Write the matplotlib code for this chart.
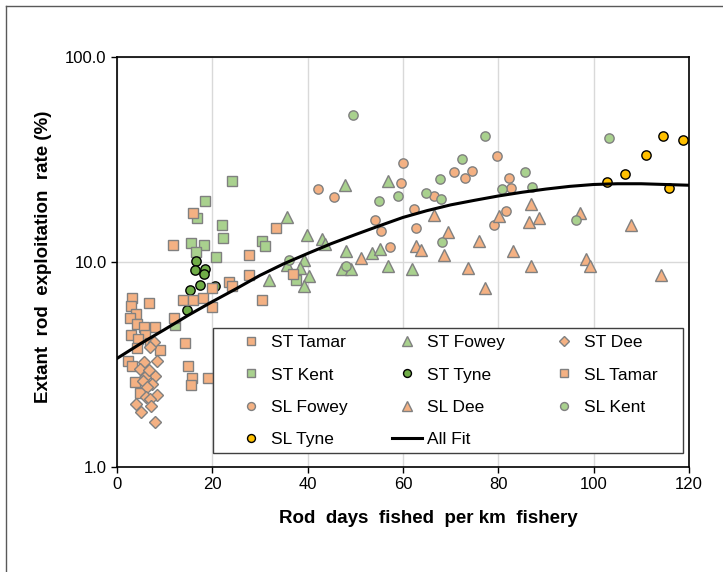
import matplotlib
matplotlib.use('Agg')
import matplotlib.pyplot as plt
from matplotlib.lines import Line2D
from matplotlib.patches import Rectangle
from matplotlib.ticker import FixedLocator, NullLocator, FixedFormatter

plt.rcParams['font.family'] = ['Liberation Sans', 'DejaVu Sans']

# data (x = rod days / km, y = exploitation rate %)
st_tamar_x = [3.2, 2.9, 6.8, 3.9, 2.7, 4.3, 5.7, 8.0, 2.9, 5.9, 4.5, 6.9, 4.1, 9.0, 2.4, 3.1, 3.8, 4.8, 14.3, 14.9, 15.7, 15.6, 19.1]
st_tamar_y = [6.7, 6.1, 6.3, 5.6, 5.3, 5.0, 4.8, 4.8, 4.4, 4.4, 4.2, 4.0, 3.8, 3.7, 3.3, 3.1, 2.6, 2.3, 4.0, 3.1, 2.7, 2.5, 2.7]

st_fowey_x = [47.9, 56.8, 39.9, 43.0, 43.6, 48.1, 53.6, 55.1, 56.8, 61.8, 47.2, 49.2, 39.2, 40.2, 39.3, 35.7, 31.8, 35.7, 38.3]
st_fowey_y = [23.7, 24.8, 13.5, 12.9, 12.2, 11.3, 11.0, 11.6, 9.6, 9.26, 9.26, 9.19, 10.2, 8.5, 7.67, 16.6, 8.13, 9.72, 9.37]

st_dee_x = [7.8, 6.9, 8.3, 5.7, 4.8, 8.0, 5.9, 5.5, 7.3, 6.2, 8.3, 6.0, 3.9, 6.9, 7.1, 5.0, 8.0, 6.8]
st_dee_y = [4.06, 3.83, 3.30, 3.24, 3.00, 2.79, 2.73, 2.63, 2.54, 2.44, 2.25, 2.20, 2.03, 2.14, 1.99, 1.85, 1.66, 2.97]

st_kent_x = [24.1, 18.5, 16.8, 22.0, 22.2, 15.6, 18.2, 16.6, 20.7, 30.4, 31.0, 37.6, 12.2]
st_kent_y = [24.8, 19.8, 16.4, 15.2, 13.1, 12.4, 12.1, 11.2, 10.6, 12.7, 12.0, 8.2, 4.9]

st_tyne_x = [16.6, 16.3, 18.5, 18.2, 17.4, 15.3, 14.6, 20.5]
st_tyne_y = [10.1, 9.1, 9.2, 8.7, 7.7, 7.3, 5.8, 7.6]

sl_tamar_x = [16.0, 11.8, 19.9, 23.4, 24.2, 13.8, 16.0, 18.1, 33.4, 27.7, 27.7, 36.9, 30.4, 12.0, 20.0]
sl_tamar_y = [17.4, 12.1, 7.5, 8.0, 7.6, 6.55, 6.5, 6.7, 14.6, 10.8, 8.6, 8.7, 6.5, 5.3, 6.0]

sl_fowey_x = [42.1, 45.5, 60.0, 59.5, 62.4, 66.5, 70.7, 73.1, 74.5, 79.7, 54.1, 55.5, 62.8, 57.2, 79.1, 82.2, 82.7, 81.6]
sl_fowey_y = [22.7, 20.7, 30.5, 24.3, 18.2, 20.9, 27.5, 25.8, 27.8, 32.9, 16.1, 14.1, 14.7, 11.9, 15.1, 25.8, 23.0, 17.7]

sl_dee_x = [66.5, 69.5, 76.0, 62.8, 63.8, 68.7, 51.3, 73.7, 77.2, 80.1, 86.9, 86.4, 88.5, 83.2, 86.9, 97.2, 98.4, 99.3, 107.8, 114.1]
sl_dee_y = [16.9, 14.0, 12.6, 12.0, 11.5, 10.8, 10.4, 9.33, 7.45, 16.7, 19.1, 15.6, 16.4, 11.3, 9.6, 17.4, 10.3, 9.53, 15.1, 8.65]

sl_kent_x = [49.6, 77.2, 72.4, 67.7, 64.9, 68.0, 59.0, 55.0, 80.8, 85.7, 87.1, 103.3, 96.4, 68.2, 48.1, 36.1]
sl_kent_y = [52.4, 41.2, 32.0, 25.5, 21.8, 20.4, 20.9, 19.9, 22.7, 27.4, 23.2, 40.2, 16.1, 12.5, 9.53, 10.2]

sl_tyne_x = [102.8, 106.6, 111.0, 114.5, 118.7, 115.8]
sl_tyne_y = [24.5, 27.0, 33.4, 41.2, 39.2, 23.0]

# fitted curve, read every 5 units
fit_x = [0, 5, 10, 15, 20, 25, 30, 35, 40, 45, 50, 55, 60, 65, 70, 75, 80, 85, 90, 95, 100, 105, 110, 115, 120]
fit_y = [3.38, 4.0, 4.68, 5.5, 6.4, 7.4, 8.6, 9.8, 11.0, 12.3, 13.6, 15.0, 16.5, 17.8, 19.0, 20.0, 21.0, 21.9, 22.7, 23.4, 23.9, 24.1, 24.1, 23.9, 23.7]

x_ticks = [0, 20, 40, 60, 80, 100, 120]
y_ticks = [1, 10, 100]
y_tick_labels = ['1.0', '10.0', '100.0']

orange = '#F4B183'
green = '#A9D18E'
dark_green = '#70AD47'
gold = '#FFC000'
edge = '#808080'

fig = plt.figure(figsize=(7.23, 5.72), dpi=100)
ax = fig.add_axes([0.1618, 0.184, 0.791, 0.716])

# series in the same order as the original (later ones on top)
series = [
    ('ST Tamar', st_tamar_x, st_tamar_y, 's', orange, edge, 6.7),
    ('ST Fowey', st_fowey_x, st_fowey_y, '^', green, edge, 8.0),
    ('ST Dee', st_dee_x, st_dee_y, 'D', orange, edge, 5.8),
    ('ST Kent', st_kent_x, st_kent_y, 's', green, edge, 6.7),
    ('ST Tyne', st_tyne_x, st_tyne_y, 'o', dark_green, 'black', 6.7),
    ('SL Tamar', sl_tamar_x, sl_tamar_y, 's', orange, edge, 6.7),
    ('SL Fowey', sl_fowey_x, sl_fowey_y, 'o', orange, edge, 6.7),
    ('SL Dee', sl_dee_x, sl_dee_y, '^', orange, edge, 8.0),
    ('SL Kent', sl_kent_x, sl_kent_y, 'o', green, edge, 6.7),
    ('SL Tyne', sl_tyne_x, sl_tyne_y, 'o', gold, 'black', 6.7),
]
handles = {}
for z, (name, xs, ys, mk, fc, ec, ms) in enumerate(series):
    h, = ax.plot(xs, ys, linestyle='none', marker=mk, markersize=ms,
                 markerfacecolor=fc, markeredgecolor=ec, markeredgewidth=1.0,
                 label=name, zorder=3 + z * 0.1)
    handles[name] = h

fit, = ax.plot(fit_x, fit_y, color='black', lw=2.2, label='All Fit', zorder=5)
handles['All Fit'] = fit

ax.set_yscale('log')
ax.set_xlim(0, 120)
ax.set_ylim(1, 100)
ax.xaxis.set_major_locator(FixedLocator(x_ticks))
ax.yaxis.set_major_locator(FixedLocator(y_ticks))
ax.yaxis.set_major_formatter(FixedFormatter(y_tick_labels))
ax.yaxis.set_minor_locator(NullLocator())
ax.tick_params(direction='out', length=4, width=1, labelsize=12, colors='black')
ax.grid(True, color='#D9D9D9', lw=1)
ax.set_axisbelow(True)
for sp in ax.spines.values():
    sp.set_color('black')
    sp.set_linewidth(1.2)

fig.text(0.593, 0.0927, 'Rod  days  fished  per km  fishery', fontsize=13.5,
         fontweight='bold', ha='center', va='center')
fig.text(0.0595, 0.551, 'Extant  rod  exploitation  rate (%)', fontsize=13.5,
         fontweight='bold', ha='center', va='center', rotation=90)

# legend box drawn separately so the inner padding can differ per side
box = Rectangle((0.168, 0.0327), 0.822, 0.3068, transform=ax.transAxes,
                facecolor='white', edgecolor='#404040', lw=1.0, zorder=9)
ax.add_patch(box)

# legend rows go across like excel: matplotlib fills by column
order = ['ST Tamar', 'ST Kent', 'SL Fowey', 'SL Tyne',
         'ST Fowey', 'ST Tyne', 'SL Dee', 'All Fit',
         'ST Dee', 'SL Tamar', 'SL Kent']
leg = ax.legend([handles[k] for k in order], order, ncol=3, loc='center',
                bbox_to_anchor=(0.208, 0.0849, 0.737, 0.2), mode='expand',
                borderaxespad=0, borderpad=0, fontsize=12.5, frameon=False,
                markerscale=0.85, handlelength=1.75, handletextpad=0.25,
                labelspacing=0.98)
leg.set_zorder(10)

# outer chart border (only top and left show in the picture)
fig.add_artist(Line2D([0.0079, 0.0079], [0.0, 0.990], color='#595959', lw=1))
fig.add_artist(Line2D([0.0079, 1.0], [0.990, 0.990], color='#595959', lw=1))

fig.savefig('out.png', dpi=100)
